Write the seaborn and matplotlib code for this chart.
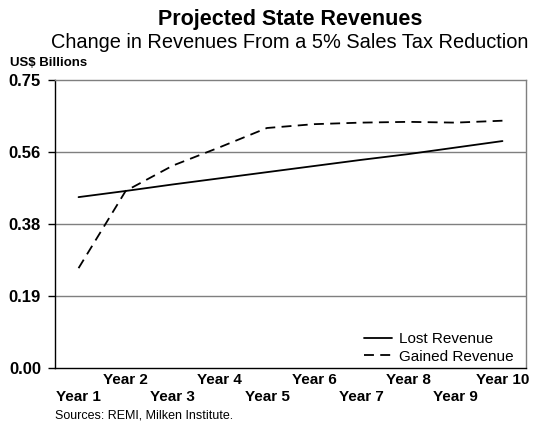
import matplotlib
matplotlib.use("Agg")
import matplotlib.pyplot as plt
import seaborn as sns
import pandas as pd

years = list(range(1, 11))
year_labels = [f"Year {y}" for y in years]
lost_revenue = [0.445, 0.461, 0.478, 0.494, 0.510, 0.526, 0.542, 0.557, 0.574, 0.591]
gained_revenue = [0.260, 0.461, 0.527, 0.575, 0.625, 0.635, 0.639, 0.641, 0.639, 0.644]
series_names = ["Lost Revenue", "Gained Revenue"]
y_ticks = [0.0, 0.1875, 0.375, 0.5625, 0.75]

df = pd.DataFrame({
    "Year": years * 2,
    "Value": lost_revenue + gained_revenue,
    "Series": [series_names[0]] * len(years) + [series_names[1]] * len(years),
})

sns.set_style("white")
plt.rcParams["font.family"] = ["Liberation Sans", "DejaVu Sans"]
plt.rcParams["text.color"] = "black"
plt.rcParams["xtick.color"] = "black"
plt.rcParams["ytick.color"] = "black"
plt.rcParams["axes.labelcolor"] = "black"

fig = plt.figure(figsize=(5.33, 4.24), dpi=100)
ax = fig.add_axes([55 / 533, 1 - 368 / 424, 471 / 533, 288 / 424])

sns.lineplot(data=df, x="Year", y="Value", style="Series", hue="Series",
             palette={series_names[0]: "black", series_names[1]: "black"},
             dashes={series_names[0]: "", series_names[1]: (5.5, 3.5)},
             linewidth=1.3, ax=ax, legend=True)

ax.set_xlim(0.5, 10.5)
ax.set_ylim(0, 0.75)
ax.set_yticks(y_ticks)
ax.set_yticklabels([f"{v:.2f}" for v in y_ticks], fontsize=12, fontweight="bold")
ax.set_xticks(years)
ax.set_xticklabels([("\n" + l) if (i % 2 == 0) else l for i, l in enumerate(year_labels)],
                   fontsize=11, fontweight="bold", linespacing=1.25)
ax.tick_params(axis="x", length=0, pad=3.5)
ax.tick_params(axis="y", length=5, width=1, color="black", pad=5, direction="out", left=True)
ax.set_xlabel("")
ax.set_ylabel("")

for v in y_ticks[1:-1]:
    ax.axhline(v, color="#7f7f7f", lw=1.0, zorder=0)

for side in ["left", "bottom"]:
    ax.spines[side].set_color("black")
    ax.spines[side].set_linewidth(1.0)
for side in ["top", "right"]:
    ax.spines[side].set_color("#7f7f7f")
    ax.spines[side].set_linewidth(1.0)

leg = ax.legend(loc="upper left", bbox_to_anchor=((364 - 55) / 471, (368 - 332) / 288),
                frameon=False, fontsize=11, handlelength=1.85, handletextpad=0.45,
                labelspacing=0.25, borderpad=0, borderaxespad=0)
for t in leg.get_texts():
    t.set_color("black")

fig.text(290 / 533, 1 - 20 / 424, "Projected State Revenues", ha="center", va="center",
         fontsize=15.5, fontweight="bold")
fig.text(290 / 533, 1 - 43 / 424, "Change in Revenues From a 5% Sales Tax Reduction",
         ha="center", va="center", fontsize=14.4)
fig.text(10 / 533, 1 - 62.5 / 424, "US$ Billions", ha="left", va="center",
         fontsize=9.5, fontweight="bold")
fig.text(55 / 533, 1 - 415 / 424, "Sources: REMI, Milken Institute.", ha="left",
         va="center", fontsize=9)

fig.savefig("out.png", dpi=100)
